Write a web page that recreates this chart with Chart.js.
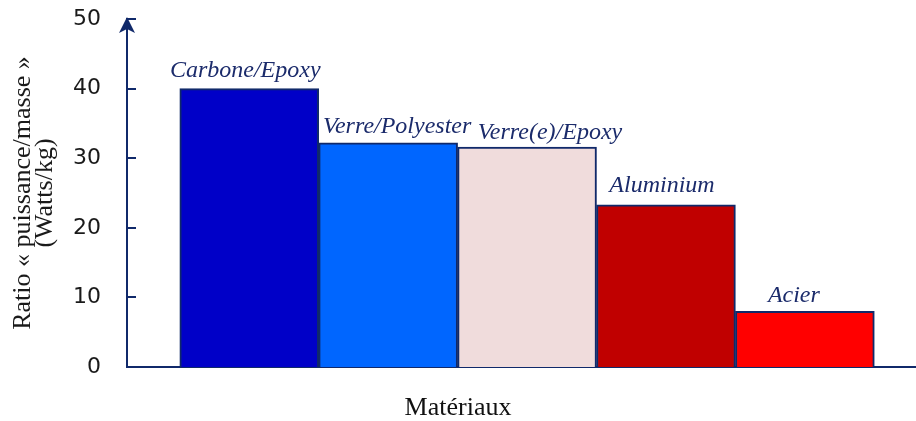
<!DOCTYPE html>
<html lang="fr">
<head>
<meta charset="utf-8">
<title>Ratio puissance/masse par matériau</title>
<script src="https://cdn.jsdelivr.net/npm/chart.js@4/dist/chart.umd.min.js"></script>
<style>
  html, body { margin: 0; padding: 0; background: #fff; }
  #wrap { width: 916px; height: 421px; position: relative; }
</style>
</head>
<body>
<div id="wrap"><canvas id="ratioChart"></canvas></div>
<script>
const materials = ['Carbone/Epoxy', 'Verre/Polyester', 'Verre(e)/Epoxy', 'Aluminium', 'Acier'];
const ratios = [40, 32.2, 31.6, 23.3, 8];
const barColors = ['#0000c8', '#0066ff', '#f0dcdc', '#c00000', '#ff0000'];
const yTicks = [0, 10, 20, 30, 40, 50];

const navy = '#10296a';

// arrow on top of the y axis + small inner tick marks
const axisDecor = {
  id: 'axisDecor',
  afterDraw(chart) {
    const { ctx, chartArea, scales } = chart;
    const x = chartArea.left;
    const top = scales.y.getPixelForValue(50);
    ctx.save();
    ctx.strokeStyle = navy;
    ctx.lineWidth = 2;
    yTicks.forEach(v => {
      const y = Math.round(scales.y.getPixelForValue(v));
      ctx.beginPath();
      ctx.moveTo(x, y);
      ctx.lineTo(x + 9, y);
      ctx.stroke();
    });
    ctx.fillStyle = navy;
    ctx.beginPath();
    ctx.moveTo(x, top - 2);
    ctx.lineTo(x - 8, top + 14);
    ctx.lineTo(x, top + 10);
    ctx.lineTo(x + 8, top + 14);
    ctx.closePath();
    ctx.fill();
    ctx.restore();
  }
};

// material names written over each bar
const barNames = {
  id: 'barNames',
  afterDatasetsDraw(chart, args, opts) {
    const { ctx } = chart;
    const meta = chart.getDatasetMeta(0);
    ctx.save();
    ctx.font = 'italic 24px "Liberation Serif", "Times New Roman", serif';
    ctx.fillStyle = opts.color;
    ctx.textAlign = 'center';
    ctx.textBaseline = 'alphabetic';
    meta.data.forEach((bar, i) => {
      const [dx, dy] = opts.offsets[i];
      ctx.fillText(materials[i], bar.x + dx, bar.y - dy);
    });
    ctx.restore();
  }
};

new Chart(document.getElementById('ratioChart'), {
  type: 'bar',
  data: {
    datasets: [{
      data: ratios.map((v, i) => ({ x: i, y: v })),
      backgroundColor: barColors,
      borderColor: navy,
      borderWidth: 2,
      barThickness: 'flex',
      barPercentage: 1,
      categoryPercentage: 1
    }]
  },
  options: {
    responsive: true,
    maintainAspectRatio: false,
    animation: false,
    layout: { padding: { top: 19, left: 0, right: 0, bottom: 0 } },
    plugins: {
      legend: { display: false },
      tooltip: { enabled: false },
      title: {
        display: true,
        position: 'bottom',
        text: 'Matériaux',
        color: '#111',
        font: { family: '"Liberation Serif", "Times New Roman", serif', size: 26, weight: 'normal', lineHeight: 1 },
        padding: { top: 0, bottom: 0 }
      },
      barNames: {
        color: '#1b2b6b',
        offsets: [[-4, 12], [9, 10], [23, 8], [-4, 13], [-11, 9]]
      }
    },
    scales: {
      x: {
        type: 'linear',
        offset: false,
        min: -0.88,
        max: 4.8,
        grid: { display: false },
        ticks: { display: false },
        border: { display: true, color: navy, width: 2 },
        afterFit(scale) { scale.height = 28; }
      },
      y: {
        min: 0,
        max: 50,
        grid: { display: false, drawTicks: false },
        border: { display: true, color: navy, width: 2 },
        ticks: {
          stepSize: 10,
          padding: 26,
          color: '#1a1a1a',
          font: { family: '"DejaVu Sans", sans-serif', size: 22 }
        },
        title: {
          display: true,
          text: ['Ratio « puissance/masse »', '(Watts/kg)'],
          color: '#1a1a1a',
          font: { family: '"Liberation Serif", "Times New Roman", serif', size: 26, lineHeight: 0.85 },
          padding: { top: 12, bottom: 0 }
        },
        afterFit(scale) {
          scale.width = 127;
          // labels may overhang the plot; keep the plot top free
          scale.paddingTop = 0;
          scale.paddingBottom = 0;
        }
      }
    }
  },
  plugins: [axisDecor, barNames]
});
</script>
</body>
</html>
